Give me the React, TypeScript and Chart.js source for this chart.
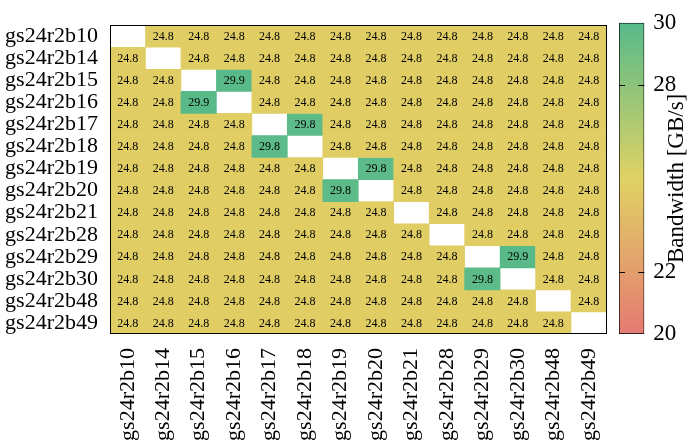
import React, { useEffect, useRef } from 'react';
import { Chart, registerables } from 'chart.js';

Chart.register(...registerables);

// ---------- data ----------
const nodes = [
  'gs24r2b10', 'gs24r2b14', 'gs24r2b15', 'gs24r2b16', 'gs24r2b17', 'gs24r2b18', 'gs24r2b19',
  'gs24r2b20', 'gs24r2b21', 'gs24r2b28', 'gs24r2b29', 'gs24r2b30', 'gs24r2b48', 'gs24r2b49',
];

const rowB10 = [null, 24.8, 24.8, 24.8, 24.8, 24.8, 24.8, 24.8, 24.8, 24.8, 24.8, 24.8, 24.8, 24.8];
const rowB14 = [24.8, null, 24.8, 24.8, 24.8, 24.8, 24.8, 24.8, 24.8, 24.8, 24.8, 24.8, 24.8, 24.8];
const rowB15 = [24.8, 24.8, null, 29.9, 24.8, 24.8, 24.8, 24.8, 24.8, 24.8, 24.8, 24.8, 24.8, 24.8];
const rowB16 = [24.8, 24.8, 29.9, null, 24.8, 24.8, 24.8, 24.8, 24.8, 24.8, 24.8, 24.8, 24.8, 24.8];
const rowB17 = [24.8, 24.8, 24.8, 24.8, null, 29.8, 24.8, 24.8, 24.8, 24.8, 24.8, 24.8, 24.8, 24.8];
const rowB18 = [24.8, 24.8, 24.8, 24.8, 29.8, null, 24.8, 24.8, 24.8, 24.8, 24.8, 24.8, 24.8, 24.8];
const rowB19 = [24.8, 24.8, 24.8, 24.8, 24.8, 24.8, null, 29.8, 24.8, 24.8, 24.8, 24.8, 24.8, 24.8];
const rowB20 = [24.8, 24.8, 24.8, 24.8, 24.8, 24.8, 29.8, null, 24.8, 24.8, 24.8, 24.8, 24.8, 24.8];
const rowB21 = [24.8, 24.8, 24.8, 24.8, 24.8, 24.8, 24.8, 24.8, null, 24.8, 24.8, 24.8, 24.8, 24.8];
const rowB28 = [24.8, 24.8, 24.8, 24.8, 24.8, 24.8, 24.8, 24.8, 24.8, null, 24.8, 24.8, 24.8, 24.8];
const rowB29 = [24.8, 24.8, 24.8, 24.8, 24.8, 24.8, 24.8, 24.8, 24.8, 24.8, null, 29.9, 24.8, 24.8];
const rowB30 = [24.8, 24.8, 24.8, 24.8, 24.8, 24.8, 24.8, 24.8, 24.8, 24.8, 29.8, null, 24.8, 24.8];
const rowB48 = [24.8, 24.8, 24.8, 24.8, 24.8, 24.8, 24.8, 24.8, 24.8, 24.8, 24.8, 24.8, null, 24.8];
const rowB49 = [24.8, 24.8, 24.8, 24.8, 24.8, 24.8, 24.8, 24.8, 24.8, 24.8, 24.8, 24.8, 24.8, null];

const matrix: (number | null)[][] = [
  rowB10, rowB14, rowB15, rowB16, rowB17, rowB18, rowB19,
  rowB20, rowB21, rowB28, rowB29, rowB30, rowB48, rowB49,
];

const paletteValues = [20, 25, 30];
const paletteColors = ['#e57a72', '#e0d264', '#56ba8a'];
const colorbarRange = [20, 30];
const colorbarTicks = [20, 22, 28, 30];
const colorbarMarks = [22, 28];
const colorbarTitle = 'Bandwidth [GB/s]';

// ---------- helpers ----------
const FONT = "'Liberation Serif', 'DejaVu Serif', serif";

function hexToRgb(h: string) {
  const n = parseInt(h.slice(1), 16);
  return [(n >> 16) & 255, (n >> 8) & 255, n & 255];
}

function valueColor(v: number) {
  let i = 0;
  while (i < paletteValues.length - 2 && v > paletteValues[i + 1]) i++;
  const a = paletteValues[i];
  const b = paletteValues[i + 1];
  const t = Math.max(0, Math.min(1, (v - a) / (b - a)));
  const ca = hexToRgb(paletteColors[i]);
  const cb = hexToRgb(paletteColors[i + 1]);
  const c = ca.map((x, k) => Math.round(x + (cb[k] - x) * t));
  return `rgb(${c[0]},${c[1]},${c[2]})`;
}

const cellLabelPlugin = {
  id: 'cellLabels',
  afterDatasetsDraw(chart: any) {
    const ctx = chart.ctx;
    ctx.save();
    ctx.font = `12px ${FONT}`;
    ctx.fillStyle = '#000';
    ctx.textAlign = 'center';
    ctx.textBaseline = 'middle';
    matrix.forEach((row, i) => {
      const meta = chart.getDatasetMeta(i);
      row.forEach((v, j) => {
        if (v == null) return;
        const el: any = meta.data[j];
        if (!el) return;
        ctx.fillText(v.toFixed(1), el.x, (el.y + el.base) / 2 + 0.5);
      });
    });
    ctx.restore();
  },
};

const framePlugin = {
  id: 'frame',
  afterDraw(chart: any) {
    const { ctx, chartArea: a } = chart;
    ctx.save();
    ctx.strokeStyle = '#000';
    ctx.lineWidth = 1;
    ctx.strokeRect(Math.round(a.left) + 0.5, Math.round(a.top) + 0.5, Math.round(a.right - a.left) - 1, Math.round(a.bottom - a.top) - 1);
    ctx.restore();
  },
};

const colorbarPlugin = {
  id: 'colorbarExtras',
  afterDatasetsDraw(chart: any) {
    const { ctx, chartArea: a, scales } = chart;
    ctx.save();
    ctx.strokeStyle = '#000';
    ctx.lineWidth = 1;
    colorbarMarks.forEach((m) => {
      const y = Math.round(scales.y.getPixelForValue(m)) + 0.5;
      ctx.beginPath();
      ctx.moveTo(a.left, y);
      ctx.lineTo(a.left + 6, y);
      ctx.moveTo(a.right - 6, y);
      ctx.lineTo(a.right, y);
      ctx.stroke();
    });
    ctx.translate(76.5, (a.top + a.bottom) / 2);
    ctx.rotate(-Math.PI / 2);
    ctx.font = `23px ${FONT}`;
    ctx.fillStyle = '#000';
    ctx.textAlign = 'center';
    ctx.textBaseline = 'middle';
    ctx.fillText(colorbarTitle, 0, 0);
    ctx.restore();
  },
};

export default function App() {
  const mainRef = useRef<HTMLCanvasElement>(null);
  const barRef = useRef<HTMLCanvasElement>(null);

  useEffect(() => {
    const main = new Chart(mainRef.current as HTMLCanvasElement, {
      type: 'bar',
      data: {
        labels: nodes,
        datasets: matrix.map((row, i) => ({
          label: nodes[i],
          data: row.map((v) => (v == null ? null : [i, i + 1])) as any,
          backgroundColor: row.map((v) => (v == null ? 'rgba(0,0,0,0)' : valueColor(v))),
          borderWidth: 0,
          barPercentage: 1,
          categoryPercentage: 1,
          grouped: false,
        })),
      },
      options: {
        animation: false,
        responsive: false,
        maintainAspectRatio: false,
        layout: { padding: { top: 11.5, right: 84.5, left: 0, bottom: 0 } },
        plugins: { legend: { display: false }, tooltip: { enabled: false } },
        scales: {
          x: {
            type: 'category',
            grid: { display: false, drawTicks: false },
            border: { display: false },
            ticks: {
              autoSkip: false,
              minRotation: 90,
              maxRotation: 90,
              padding: 14,
              color: '#000',
              font: { family: FONT, size: 22 },
            },
            afterFit: (s: any) => { s.height = 111; },
          },
          y: {
            type: 'linear',
            min: 0,
            max: nodes.length,
            reverse: true,
            grid: { display: false, drawTicks: false },
            border: { display: false },
            afterBuildTicks: (s: any) => { s.ticks = nodes.map((_, i) => ({ value: i + 0.5 })); },
            ticks: {
              autoSkip: false,
              padding: 12,
              color: '#000',
              font: { family: FONT, size: 22 },
              callback: (v: any) => nodes[Math.floor(Number(v))],
            },
            afterFit: (s: any) => { s.width = 110; },
          },
        },
      } as any,
      plugins: [cellLabelPlugin, framePlugin],
    });

    const bar = new Chart(barRef.current as HTMLCanvasElement, {
      type: 'bar',
      data: {
        labels: [''],
        datasets: [{
          data: [colorbarRange] as any,
          backgroundColor: (c: any) => {
            const ch = c.chart;
            if (!ch.chartArea) return 'rgba(0,0,0,0)';
            const y0 = ch.scales.y.getPixelForValue(colorbarRange[0]);
            const y1 = ch.scales.y.getPixelForValue(colorbarRange[1]);
            const g = ch.ctx.createLinearGradient(0, y0, 0, y1);
            paletteValues.forEach((v, k) => {
              g.addColorStop((v - colorbarRange[0]) / (colorbarRange[1] - colorbarRange[0]), paletteColors[k]);
            });
            return g;
          },
          borderColor: '#000',
          borderWidth: 1,
          borderSkipped: false,
          barPercentage: 1,
          categoryPercentage: 1,
        }],
      },
      options: {
        animation: false,
        responsive: false,
        maintainAspectRatio: false,
        layout: { padding: { top: 11.5, left: 19, right: 0, bottom: 111 } },
        plugins: { legend: { display: false }, tooltip: { enabled: false } },
        scales: {
          x: { display: false },
          y: {
            type: 'linear',
            position: 'right',
            min: colorbarRange[0],
            max: colorbarRange[1],
            grid: { display: false, drawTicks: false },
            border: { display: false },
            afterBuildTicks: (s: any) => { s.ticks = colorbarTicks.map((v) => ({ value: v })); },
            ticks: {
              autoSkip: false,
              padding: 9,
              color: '#000',
              font: { family: FONT, size: 23 },
            },
            afterFit: (s: any) => { s.width = 46.7; },
          },
        },
      } as any,
      plugins: [colorbarPlugin],
    });

    return () => {
      main.destroy();
      bar.destroy();
    };
  }, []);

  return (
    <div style={{ position: 'absolute', left: 0, top: 0, width: 691, height: 445, background: '#fff' }}>
      <canvas ref={mainRef} width={691} height={445} style={{ position: 'absolute', left: 0, top: 0, width: 691, height: 445 }} />
      <canvas ref={barRef} width={91} height={445} style={{ position: 'absolute', left: 600, top: 0, width: 91, height: 445 }} />
    </div>
  );
}
